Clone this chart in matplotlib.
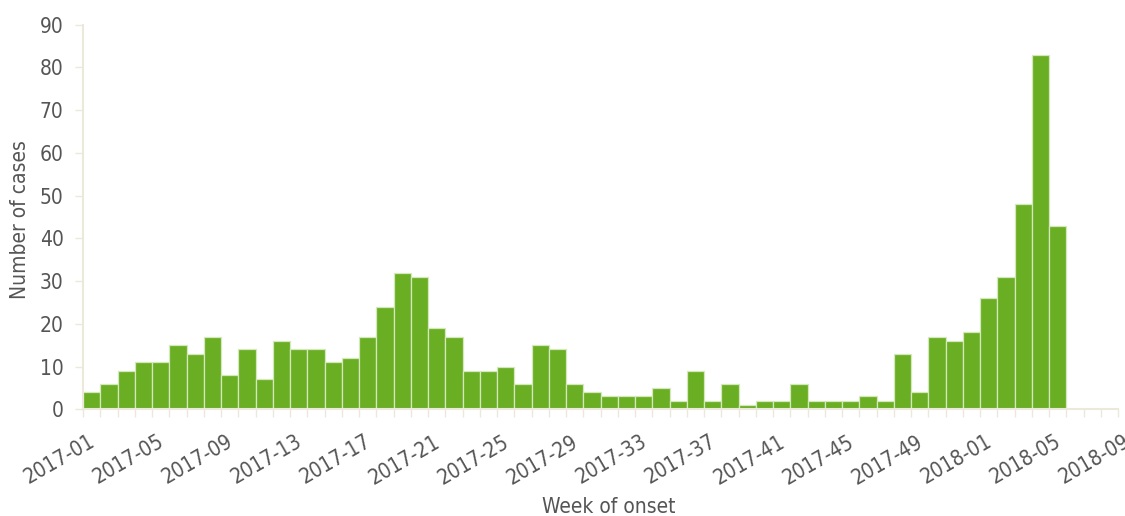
import matplotlib
matplotlib.use("Agg")
import matplotlib.pyplot as plt
import matplotlib.transforms as mtrans
import numpy as np

weeks = [f"2017-{i:02d}" for i in range(1, 53)] + [f"2018-{i:02d}" for i in range(1, 10)]
cases = [4, 6, 9, 11, 11, 15, 13, 17, 8, 14, 7, 16, 14, 14, 11, 12, 17, 24, 32, 31,
         19, 17, 9, 9, 10, 6, 15, 14, 6, 4, 3, 3, 3, 5, 2, 9, 2, 6, 1, 2,
         2, 6, 2, 2, 2, 3, 2, 13, 4, 17, 16, 18,
         26, 31, 48, 83, 43, 0, 0, 0]
yticks = [0, 10, 20, 30, 40, 50, 60, 70, 80, 90]

plt.rcParams['font.family'] = ['DejaVu Sans']
plt.rcParams['font.stretch'] = 'condensed'
fs = 15
fig = plt.figure(figsize=(11.25, 5.16), dpi=100)
ax = fig.add_axes([83/1125, 1-409.3/516, (1118-83)/1125, (409.3-24.7)/516])

x = np.arange(len(cases))
ax.bar(x, cases, width=1.0, align='edge', color='#6aae24', edgecolor='#d4e8bc', linewidth=0.9)

axis_col = '#ebe8dc'
text_col = '#555555'
ax.set_xlim(0, len(weeks) - 1)
ax.set_ylim(0, 90)
ax.set_yticks(yticks)
ax.set_yticklabels([str(v) for v in yticks], fontsize=fs, color=text_col)
ax.set_xticks(np.arange(len(weeks)), minor=True)
major = np.arange(0, len(weeks), 4)
ax.set_xticks(major)
ax.set_xticklabels([weeks[i] for i in major], rotation=30, ha='right', rotation_mode='anchor',
                   fontsize=fs, color=text_col)
ax.tick_params(axis='x', which='both', direction='out', length=6, width=1, color=axis_col, pad=10)
ax.tick_params(axis='y', direction='out', length=6, width=1, color=axis_col, pad=8)
shift = mtrans.ScaledTranslation(5/100, 0, fig.dpi_scale_trans)
for lbl in ax.get_xticklabels():
    lbl.set_transform(lbl.get_transform() + shift)
for s in ['top', 'right']:
    ax.spines[s].set_visible(False)
for s in ['left', 'bottom']:
    ax.spines[s].set_color(axis_col)
    ax.spines[s].set_linewidth(1.5)

fig.text(20/1125, 1-220/516, 'Number of cases', rotation=90, ha='center', va='center',
         fontsize=fs, color=text_col)
fig.text(609/1125, 1-507/516, 'Week of onset', ha='center', va='center',
         fontsize=fs, color=text_col)

fig.savefig('out.png', dpi=100)
